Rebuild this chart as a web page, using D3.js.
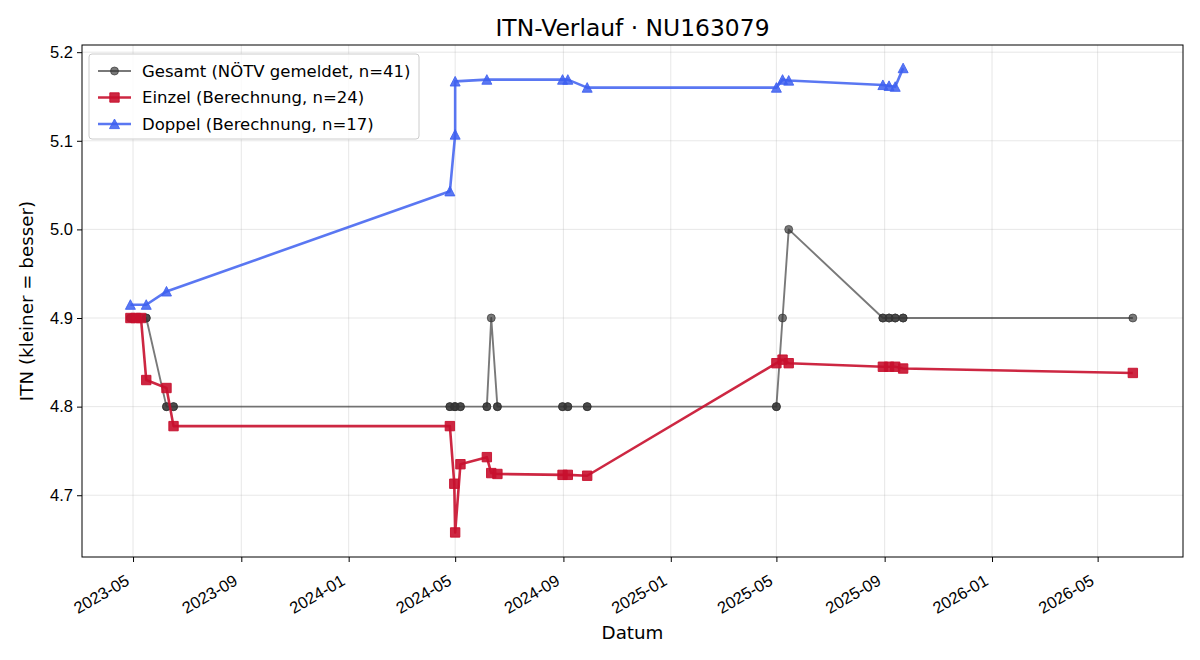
<!DOCTYPE html>
<html>
<head>
<meta charset="utf-8">
<script src="https://cdn.jsdelivr.net/npm/d3@7"></script>
<style>
  body { margin: 0; background: #fff; }
  svg { font-family: "DejaVu Sans", sans-serif; }
</style>
</head>
<body>
<div id="chart"></div>
<script>
// data
var gesamtDates = ["2023-04-28","2023-04-28","2023-05-04","2023-05-10","2023-05-16","2023-05-16",
    "2023-06-08","2023-06-08","2023-06-16","2023-06-16","2024-04-25","2024-04-25","2024-04-30",
    "2024-05-01","2024-05-01","2024-05-07","2024-05-07","2024-06-06","2024-06-06","2024-06-11",
    "2024-06-18","2024-06-18","2024-08-31","2024-08-31","2024-09-06","2024-09-06","2024-09-28",
    "2024-09-28","2025-05-01","2025-05-01","2025-05-08","2025-05-15","2025-08-30","2025-08-30",
    "2025-09-06","2025-09-06","2025-09-13","2025-09-13","2025-09-22","2025-09-22","2026-06-10"];
var gesamtValues = [4.9,4.9,4.9,4.9,4.9,4.9,
    4.8,4.8,4.8,4.8,4.8,4.8,4.8,
    4.8,4.8,4.8,4.8,4.8,4.8,4.9,
    4.8,4.8,4.8,4.8,4.8,4.8,4.8,
    4.8,4.8,4.8,4.9,5.0,4.9,4.9,
    4.9,4.9,4.9,4.9,4.9,4.9,4.9];

var einzelDates = ["2023-04-28","2023-05-04","2023-05-10","2023-05-16","2023-06-08","2023-06-16",
    "2024-04-25","2024-04-30","2024-05-01","2024-05-07","2024-06-06","2024-06-11","2024-06-18",
    "2024-08-31","2024-09-06","2024-09-28","2025-05-01","2025-05-08","2025-05-15",
    "2025-08-30","2025-09-06","2025-09-13","2025-09-22","2026-06-10"];
var einzelValues = [4.900,4.900,4.900,4.830,4.821,4.778,
    4.778,4.713,4.658,4.735,4.743,4.725,4.724,
    4.723,4.723,4.722,4.849,4.853,4.849,
    4.845,4.845,4.845,4.843,4.838];

var doppelDates = ["2023-04-28","2023-05-16","2023-06-08","2024-04-25","2024-05-01","2024-05-01",
    "2024-06-06","2024-08-31","2024-09-06","2024-09-28","2025-05-01","2025-05-08","2025-05-15",
    "2025-08-30","2025-09-06","2025-09-13","2025-09-22"];
var doppelValues = [4.915,4.915,4.930,5.043,5.107,5.167,
    5.169,5.169,5.169,5.160,5.160,5.169,5.168,
    5.163,5.162,5.161,5.182];

var xTickLabels = ["2023-05","2023-09","2024-01","2024-05","2024-09","2025-01","2025-05","2025-09","2026-01","2026-05"];
var yTickValues = [4.7, 4.8, 4.9, 5.0, 5.1, 5.2];
var seriesNames = ["Gesamt (NÖTV gemeldet, n=41)", "Einzel (Berechnung, n=24)", "Doppel (Berechnung, n=17)"];

var parse = d3.timeParse("%Y-%m-%d");
var parseMonth = d3.timeParse("%Y-%m");

var W = 1200, H = 660;
var margin = { top: 45, right: 17, bottom: 103, left: 82 };

var svg = d3.select("#chart").append("svg")
    .attr("width", W).attr("height", H);

var x = d3.scaleTime()
    .domain([parse("2023-03-04"), parse("2026-08-06")])
    .range([margin.left, W - margin.right]);

var y = d3.scaleLinear()
    .domain([4.6303, 5.2081])
    .range([H - margin.bottom, margin.top]);

var xTicks = xTickLabels.map(parseMonth);

// grid
svg.append("g").selectAll("line").data(xTicks).enter().append("line")
    .attr("x1", d => x(d)).attr("x2", d => x(d))
    .attr("y1", margin.top).attr("y2", H - margin.bottom)
    .attr("stroke", "#b0b0b0").attr("stroke-opacity", 0.3).attr("stroke-width", 1);
svg.append("g").selectAll("line").data(yTickValues).enter().append("line")
    .attr("x1", margin.left).attr("x2", W - margin.right)
    .attr("y1", d => y(d)).attr("y2", d => y(d))
    .attr("stroke", "#b0b0b0").attr("stroke-opacity", 0.3).attr("stroke-width", 1);

// axes
var xAxis = svg.append("g")
    .attr("transform", "translate(0," + (H - margin.bottom) + ")")
    .call(d3.axisBottom(x).tickValues(xTicks).tickFormat(d3.timeFormat("%Y-%m")).tickSizeOuter(0).tickSize(5));
xAxis.select(".domain").remove();
// rotated like autofmt_xdate: right edge at the tick
xAxis.selectAll("text")
    .attr("font-size", "16.5px").attr("fill", "#000")
    .attr("text-anchor", "end")
    .attr("x", 0).attr("y", 0).attr("dy", 0)
    .attr("transform", "translate(-3,27) rotate(-30)");

var yAxis = svg.append("g")
    .attr("transform", "translate(" + margin.left + ",0)")
    .call(d3.axisLeft(y).tickValues(yTickValues).tickFormat(d3.format(".1f")).tickSizeOuter(0).tickSize(5).tickPadding(4));
yAxis.select(".domain").remove();
yAxis.selectAll("text").attr("font-size", "16.5px").attr("fill", "#000");

// frame
svg.append("rect")
    .attr("x", margin.left).attr("y", margin.top)
    .attr("width", W - margin.left - margin.right)
    .attr("height", H - margin.top - margin.bottom)
    .attr("fill", "none").attr("stroke", "#000").attr("stroke-width", 1);

// series
var series = [
    { dates: gesamtDates, values: gesamtValues, color: "#333333", alpha: 0.66, lw: 1.9, marker: "circle" },
    { dates: einzelDates, values: einzelValues, color: "#c8102e", alpha: 0.9, lw: 2.6, marker: "square" },
    { dates: doppelDates, values: doppelValues, color: "#3d5ff0", alpha: 0.85, lw: 2.6, marker: "triangle" }
];

function markerPath(type) {
    if (type === "circle") return "M4,0A4,4 0 1,1 -4,0A4,4 0 1,1 4,0Z";
    if (type === "square") return "M-4.7,-4.7H4.7V4.7H-4.7Z";
    return "M0,-5L-5,4.6L5,4.6Z";
}

var line = d3.line().x(d => x(d[0])).y(d => y(d[1]));

series.forEach(function (s) {
    var pts = s.dates.map((d, i) => [parse(d), s.values[i]]);
    svg.append("path")
        .datum(pts)
        .attr("d", line)
        .attr("fill", "none")
        .attr("stroke", s.color)
        .attr("stroke-opacity", s.alpha)
        .attr("stroke-width", s.lw)
        .attr("stroke-linejoin", "round");
    svg.append("g").selectAll("path").data(pts).enter().append("path")
        .attr("d", markerPath(s.marker))
        .attr("transform", d => "translate(" + x(d[0]) + "," + y(d[1]) + ")")
        .attr("fill", s.color).attr("fill-opacity", s.alpha)
        .attr("stroke", s.color).attr("stroke-opacity", s.alpha).attr("stroke-width", 1);
});

// legend
var lg = svg.append("g").attr("transform", "translate(89,54)");
lg.append("rect")
    .attr("width", 330).attr("height", 85).attr("rx", 3)
    .attr("fill", "#fff").attr("fill-opacity", 0.8)
    .attr("stroke", "#cccccc").attr("stroke-width", 1);
series.forEach(function (s, i) {
    var row = lg.append("g").attr("transform", "translate(0," + (17 + i * 26.5) + ")");
    row.append("line").attr("x1", 9).attr("x2", 42).attr("y1", 0).attr("y2", 0)
        .attr("stroke", s.color).attr("stroke-opacity", s.alpha).attr("stroke-width", s.lw);
    row.append("path").attr("d", markerPath(s.marker))
        .attr("transform", "translate(25.5,0)")
        .attr("fill", s.color).attr("fill-opacity", s.alpha)
        .attr("stroke", s.color).attr("stroke-opacity", s.alpha).attr("stroke-width", 1);
    row.append("text").attr("x", 53).attr("y", 0).attr("dy", "0.35em")
        .attr("font-size", "16.5px").attr("fill", "#000")
        .text(seriesNames[i]);
});

// title and labels
svg.append("text")
    .attr("x", (margin.left + W - margin.right) / 2).attr("y", 36)
    .attr("text-anchor", "middle").attr("font-size", "23.4px").attr("fill", "#000")
    .text("ITN-Verlauf · NU163079");

svg.append("text")
    .attr("x", (margin.left + W - margin.right) / 2).attr("y", 639)
    .attr("text-anchor", "middle").attr("font-size", "18.3px").attr("fill", "#000")
    .text("Datum");

svg.append("text")
    .attr("text-anchor", "middle")
    .attr("transform", "translate(33," + ((margin.top + H - margin.bottom) / 2) + ")rotate(-90)")
    .attr("font-size", "18.3px").attr("fill", "#000")
    .text("ITN  (kleiner = besser)");
</script>
</body>
</html>
